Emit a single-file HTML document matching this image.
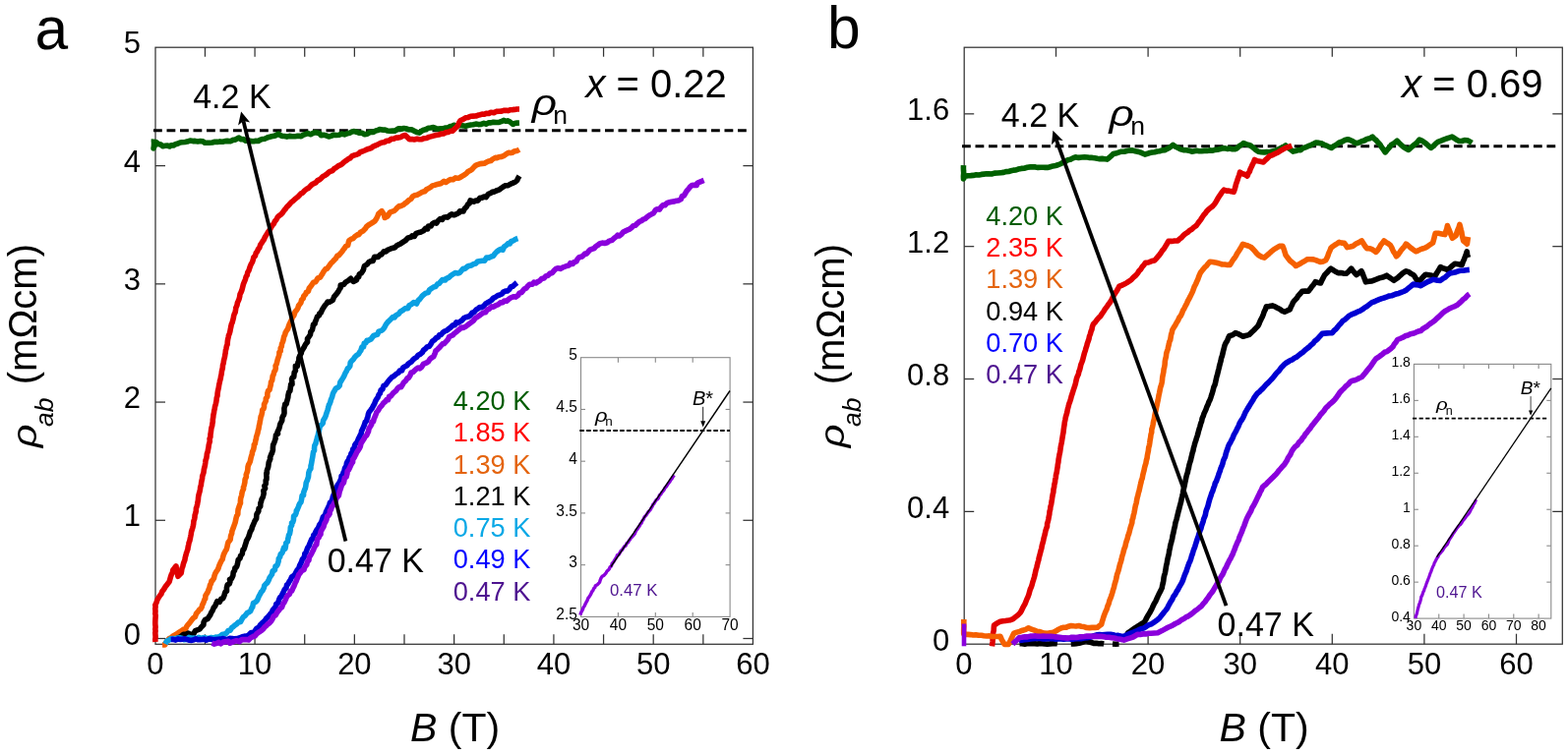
<!DOCTYPE html>
<html><head><meta charset="utf-8"><title>Figure</title>
<style>html,body{margin:0;padding:0;background:#fff;overflow:hidden}svg{display:block}</style>
</head><body>
<svg width="1594" height="768" viewBox="0 0 1594 768" font-family="'Liberation Sans', Arial, sans-serif">
<rect width="1594" height="768" fill="#fff"/>
<rect x="158.0" y="48.2" width="607.4" height="607.0999999999999" fill="none" stroke="#333" stroke-width="1.25"/>
<line x1="208.44" y1="48.20" x2="208.44" y2="57.70" stroke="#333" stroke-width="1.25" />
<line x1="208.44" y1="655.30" x2="208.44" y2="645.30" stroke="#333" stroke-width="1.25" />
<line x1="259.08" y1="48.20" x2="259.08" y2="57.70" stroke="#333" stroke-width="1.25" />
<line x1="259.08" y1="655.30" x2="259.08" y2="645.30" stroke="#333" stroke-width="1.25" />
<line x1="309.72" y1="48.20" x2="309.72" y2="57.70" stroke="#333" stroke-width="1.25" />
<line x1="309.72" y1="655.30" x2="309.72" y2="645.30" stroke="#333" stroke-width="1.25" />
<line x1="360.36" y1="48.20" x2="360.36" y2="57.70" stroke="#333" stroke-width="1.25" />
<line x1="360.36" y1="655.30" x2="360.36" y2="645.30" stroke="#333" stroke-width="1.25" />
<line x1="411.00" y1="48.20" x2="411.00" y2="57.70" stroke="#333" stroke-width="1.25" />
<line x1="411.00" y1="655.30" x2="411.00" y2="645.30" stroke="#333" stroke-width="1.25" />
<line x1="461.64" y1="48.20" x2="461.64" y2="57.70" stroke="#333" stroke-width="1.25" />
<line x1="461.64" y1="655.30" x2="461.64" y2="645.30" stroke="#333" stroke-width="1.25" />
<line x1="512.28" y1="48.20" x2="512.28" y2="57.70" stroke="#333" stroke-width="1.25" />
<line x1="512.28" y1="655.30" x2="512.28" y2="645.30" stroke="#333" stroke-width="1.25" />
<line x1="562.92" y1="48.20" x2="562.92" y2="57.70" stroke="#333" stroke-width="1.25" />
<line x1="562.92" y1="655.30" x2="562.92" y2="645.30" stroke="#333" stroke-width="1.25" />
<line x1="613.56" y1="48.20" x2="613.56" y2="57.70" stroke="#333" stroke-width="1.25" />
<line x1="613.56" y1="655.30" x2="613.56" y2="645.30" stroke="#333" stroke-width="1.25" />
<line x1="664.20" y1="48.20" x2="664.20" y2="57.70" stroke="#333" stroke-width="1.25" />
<line x1="664.20" y1="655.30" x2="664.20" y2="645.30" stroke="#333" stroke-width="1.25" />
<line x1="714.84" y1="48.20" x2="714.84" y2="57.70" stroke="#333" stroke-width="1.25" />
<line x1="714.84" y1="655.30" x2="714.84" y2="645.30" stroke="#333" stroke-width="1.25" />
<line x1="158.00" y1="649.50" x2="168.00" y2="649.50" stroke="#333" stroke-width="1.25" />
<line x1="765.40" y1="649.50" x2="755.40" y2="649.50" stroke="#333" stroke-width="1.25" />
<line x1="158.00" y1="529.28" x2="168.00" y2="529.28" stroke="#333" stroke-width="1.25" />
<line x1="765.40" y1="529.28" x2="755.40" y2="529.28" stroke="#333" stroke-width="1.25" />
<line x1="158.00" y1="409.06" x2="168.00" y2="409.06" stroke="#333" stroke-width="1.25" />
<line x1="765.40" y1="409.06" x2="755.40" y2="409.06" stroke="#333" stroke-width="1.25" />
<line x1="158.00" y1="288.84" x2="168.00" y2="288.84" stroke="#333" stroke-width="1.25" />
<line x1="765.40" y1="288.84" x2="755.40" y2="288.84" stroke="#333" stroke-width="1.25" />
<line x1="158.00" y1="168.62" x2="168.00" y2="168.62" stroke="#333" stroke-width="1.25" />
<line x1="765.40" y1="168.62" x2="755.40" y2="168.62" stroke="#333" stroke-width="1.25" />
<text transform="translate(143.00,655.70) scale(1,1.03)" font-size="31" text-anchor="end" >0</text>
<text transform="translate(143.00,535.48) scale(1,1.03)" font-size="31" text-anchor="end" >1</text>
<text transform="translate(143.00,415.26) scale(1,1.03)" font-size="31" text-anchor="end" >2</text>
<text transform="translate(143.00,295.04) scale(1,1.03)" font-size="31" text-anchor="end" >3</text>
<text transform="translate(143.00,174.82) scale(1,1.03)" font-size="31" text-anchor="end" >4</text>
<text transform="translate(143.00,54.30) scale(1,1.03)" font-size="31" text-anchor="end" >5</text>
<text transform="translate(157.80,686.30) scale(1,1.02)" font-size="31" text-anchor="middle" >0</text>
<text transform="translate(259.08,686.30) scale(1,1.02)" font-size="31" text-anchor="middle" >10</text>
<text transform="translate(360.36,686.30) scale(1,1.02)" font-size="31" text-anchor="middle" >20</text>
<text transform="translate(461.64,686.30) scale(1,1.02)" font-size="31" text-anchor="middle" >30</text>
<text transform="translate(562.92,686.30) scale(1,1.02)" font-size="31" text-anchor="middle" >40</text>
<text transform="translate(664.20,686.30) scale(1,1.02)" font-size="31" text-anchor="middle" >50</text>
<text transform="translate(765.48,686.30) scale(1,1.02)" font-size="31" text-anchor="middle" >60</text>
<rect x="980.2" y="48.2" width="608.0999999999999" height="607.0" fill="none" stroke="#333" stroke-width="1.25"/>
<line x1="1073.50" y1="48.20" x2="1073.50" y2="57.70" stroke="#333" stroke-width="1.25" />
<line x1="1073.50" y1="655.20" x2="1073.50" y2="644.70" stroke="#333" stroke-width="1.25" />
<line x1="1167.10" y1="48.20" x2="1167.10" y2="57.70" stroke="#333" stroke-width="1.25" />
<line x1="1167.10" y1="655.20" x2="1167.10" y2="644.70" stroke="#333" stroke-width="1.25" />
<line x1="1260.70" y1="48.20" x2="1260.70" y2="57.70" stroke="#333" stroke-width="1.25" />
<line x1="1260.70" y1="655.20" x2="1260.70" y2="644.70" stroke="#333" stroke-width="1.25" />
<line x1="1354.30" y1="48.20" x2="1354.30" y2="57.70" stroke="#333" stroke-width="1.25" />
<line x1="1354.30" y1="655.20" x2="1354.30" y2="644.70" stroke="#333" stroke-width="1.25" />
<line x1="1447.90" y1="48.20" x2="1447.90" y2="57.70" stroke="#333" stroke-width="1.25" />
<line x1="1447.90" y1="655.20" x2="1447.90" y2="644.70" stroke="#333" stroke-width="1.25" />
<line x1="1541.50" y1="48.20" x2="1541.50" y2="57.70" stroke="#333" stroke-width="1.25" />
<line x1="1541.50" y1="655.20" x2="1541.50" y2="644.70" stroke="#333" stroke-width="1.25" />
<line x1="980.20" y1="520.36" x2="990.20" y2="520.36" stroke="#333" stroke-width="1.25" />
<line x1="1588.30" y1="520.36" x2="1578.30" y2="520.36" stroke="#333" stroke-width="1.25" />
<line x1="980.20" y1="385.52" x2="990.20" y2="385.52" stroke="#333" stroke-width="1.25" />
<line x1="1588.30" y1="385.52" x2="1578.30" y2="385.52" stroke="#333" stroke-width="1.25" />
<line x1="980.20" y1="250.68" x2="990.20" y2="250.68" stroke="#333" stroke-width="1.25" />
<line x1="1588.30" y1="250.68" x2="1578.30" y2="250.68" stroke="#333" stroke-width="1.25" />
<line x1="980.20" y1="115.84" x2="990.20" y2="115.84" stroke="#333" stroke-width="1.25" />
<line x1="1588.30" y1="115.84" x2="1578.30" y2="115.84" stroke="#333" stroke-width="1.25" />
<text transform="translate(965.20,661.60) scale(1,1.03)" font-size="31" text-anchor="end" >0</text>
<text transform="translate(965.20,526.76) scale(1,1.03)" font-size="31" text-anchor="end" >0.4</text>
<text transform="translate(965.20,391.92) scale(1,1.03)" font-size="31" text-anchor="end" >0.8</text>
<text transform="translate(965.20,257.08) scale(1,1.03)" font-size="31" text-anchor="end" >1.2</text>
<text transform="translate(965.20,122.24) scale(1,1.03)" font-size="31" text-anchor="end" >1.6</text>
<text transform="translate(979.90,686.30) scale(1,1.02)" font-size="31" text-anchor="middle" >0</text>
<text transform="translate(1073.50,686.30) scale(1,1.02)" font-size="31" text-anchor="middle" >10</text>
<text transform="translate(1167.10,686.30) scale(1,1.02)" font-size="31" text-anchor="middle" >20</text>
<text transform="translate(1260.70,686.30) scale(1,1.02)" font-size="31" text-anchor="middle" >30</text>
<text transform="translate(1354.30,686.30) scale(1,1.02)" font-size="31" text-anchor="middle" >40</text>
<text transform="translate(1447.90,686.30) scale(1,1.02)" font-size="31" text-anchor="middle" >50</text>
<text transform="translate(1541.50,686.30) scale(1,1.02)" font-size="31" text-anchor="middle" >60</text>
<text x="35.60" y="50.20" font-size="60.5" >a</text>
<text x="840.90" y="49.40" font-size="60.5" >b</text>
<text x="417.1" y="753.8" font-size="41"><tspan font-style="italic">B</tspan> (T)</text>
<text x="1239.6" y="753.8" font-size="41"><tspan font-style="italic">B</tspan> (T)</text>
<text transform="translate(37.0,455.2) rotate(-90) scale(1.15,1)" font-size="36" font-style="italic">ρ</text>
<text transform="translate(53.6,434.1) rotate(-90)" font-size="26.5" font-style="italic">ab</text>
<text transform="translate(36.8,391.2) rotate(-90)" font-size="40">(mΩcm)</text>
<text transform="translate(858.2,455.2) rotate(-90) scale(1.15,1)" font-size="36" font-style="italic">ρ</text>
<text transform="translate(874.8,434.1) rotate(-90)" font-size="26.5" font-style="italic">ab</text>
<text transform="translate(858.0,391.2) rotate(-90)" font-size="40">(mΩcm)</text>
<text transform="translate(595.4,98.7) scale(1,1.035)" font-size="40"><tspan font-style="italic">x</tspan> = 0.22</text>
<text transform="translate(1425.1,98.9) scale(1,1.035)" font-size="40"><tspan font-style="italic">x</tspan> = 0.69</text>
<line x1="156.00" y1="132.65" x2="759.00" y2="132.65" stroke="#000" stroke-width="3.0" stroke-dasharray="8.8 4.7"/>
<line x1="978.00" y1="148.70" x2="1582.00" y2="148.70" stroke="#000" stroke-width="3.0" stroke-dasharray="8.8 4.71"/>
<text transform="translate(540.70,117.10) scale(1.18,1)" font-size="37.4" font-style="italic">ρ</text>
<text x="562.30" y="125.70" font-size="26.5" >n</text>
<text transform="translate(1127.40,128.30) scale(1.18,1)" font-size="37.4" font-style="italic">ρ</text>
<text x="1149.20" y="136.90" font-size="26.5" >n</text>
<polyline points="156.5,141.5 156.4,143.3 156.6,145.6 156.5,148.4 156.1,151.0 157.4,148.0 158.7,144.6 161.1,146.7 163.0,146.7 165.6,148.7 167.8,148.3 170.3,148.1 172.4,149.0 174.0,147.8 176.3,148.0 178.4,146.7 181.0,146.0 183.1,145.0 184.9,144.8 188.1,144.5 190.4,144.1 193.2,143.0 196.1,143.6 198.3,143.4 201.1,143.9 203.6,143.5 206.1,143.7 207.9,145.2 210.0,145.3 212.6,145.3 215.8,145.0 218.5,144.3 221.0,144.4 223.6,143.9 226.4,144.3 228.8,143.6 231.1,143.4 234.2,143.7 237.0,142.4 238.8,142.3 240.7,141.3 243.0,140.1 245.1,141.8 247.4,141.6 249.8,143.3 252.2,142.8 255.2,143.6 258.0,143.7 260.2,143.2 262.5,143.5 265.2,141.9 266.7,141.6 269.1,141.2 271.7,140.0 273.5,139.4 276.1,138.8 278.8,138.3 280.6,137.6 282.9,136.0 285.3,137.8 287.5,138.5 289.3,138.5 291.7,139.1 294.3,138.4 297.0,138.7 299.8,138.7 301.7,138.4 304.0,138.3 306.1,138.7 308.8,136.9 310.7,136.5 313.0,135.5 315.7,136.7 317.7,135.7 319.7,134.9 322.2,135.0 324.9,135.7 326.5,137.8 329.2,137.3 331.5,137.9 334.2,139.0 337.1,138.1 339.3,137.2 341.9,137.5 344.8,137.2 347.2,136.0 350.2,136.9 352.9,135.9 355.5,135.2 357.7,134.1 360.2,133.6 362.3,134.2 364.8,135.1 368.0,135.3 370.7,136.7 373.4,136.3 374.9,135.2 377.1,134.3 379.6,134.5 381.9,133.0 384.0,132.6 385.7,131.5 388.9,132.1 391.4,132.0 393.5,132.9 396.3,133.3 399.4,133.0 401.3,133.3 403.9,131.4 405.8,130.7 408.8,131.1 410.5,130.5 413.8,131.1 415.9,131.8 418.3,131.8 421.6,133.5 423.8,134.6 426.3,135.1 429.0,133.0 430.9,132.1 433.2,131.5 435.6,130.2 437.8,130.0 440.6,129.6 443.4,130.7 445.8,131.1 448.5,130.9 451.1,130.5 453.2,130.0 454.9,130.1 457.1,128.8 459.7,128.2 461.5,127.3 464.0,127.9 466.0,127.7 468.4,127.4 471.2,127.9 473.3,128.4 476.2,127.4 478.6,127.0 481.1,126.8 483.7,126.1 486.3,126.6 489.1,126.4 491.9,125.3 494.1,126.2 497.0,124.8 499.0,124.9 501.6,124.2 504.2,124.5 507.3,124.4 509.4,123.7 512.0,122.4 514.4,123.3 516.0,122.8 518.5,124.0 521.4,126.5 523.1,125.6 525.7,125.1 528.0,125.0" fill="none" stroke="#006000" stroke-width="5.6" stroke-linejoin="round" stroke-linecap="butt" />
<polyline points="158.0,653.0 157.8,650.6 158.1,648.0 158.0,646.2 157.8,643.9 158.1,641.8 157.8,640.1 158.1,637.8 157.8,634.9 157.8,633.2 157.9,630.3 158.0,628.8 158.2,625.9 157.8,624.4 158.0,621.9 157.8,619.0 158.1,617.2 157.8,615.4 159.1,612.8 159.8,610.4 161.0,608.4 162.5,605.8 163.8,604.4 164.9,601.6 166.4,599.7 167.6,597.7 169.0,595.7 170.5,593.8 172.1,591.8 172.8,589.3 173.5,586.7 174.3,584.3 175.3,582.5 175.8,580.0 177.6,577.6 179.0,575.9 179.3,578.8 179.8,581.0 180.5,584.0 180.9,586.3 184.1,583.1 184.6,580.6 185.0,578.1 185.7,576.5 186.4,573.7 186.9,572.1 187.9,569.7 188.3,567.0 188.9,565.0 189.4,562.8 190.0,561.2 190.9,558.6 191.1,556.9 191.7,554.1 192.1,552.0 192.9,550.0 193.3,547.8 193.8,545.5 194.2,543.4 194.6,540.8 195.2,538.9 195.8,537.0 196.3,534.9 196.7,532.9 196.9,530.2 197.7,527.8 198.0,526.1 198.1,524.1 198.9,521.7 199.3,519.7 199.4,517.2 200.0,515.3 200.6,513.2 200.9,511.1 201.4,508.7 201.6,505.9 201.9,504.0 202.3,502.4 203.0,500.0 203.4,497.9 203.8,495.0 204.4,493.6 204.6,491.2 205.1,488.6 205.6,486.6 205.7,484.5 206.5,482.1 207.0,480.6 207.3,477.7 207.8,475.7 208.4,473.4 208.8,470.6 209.0,468.5 209.8,466.2 210.2,463.7 210.4,461.6 211.1,459.8 211.6,457.1 212.0,455.0 212.3,452.4 212.9,450.3 213.3,448.9 213.1,446.2 213.9,444.5 214.0,441.6 214.3,440.1 214.6,437.6 214.9,435.3 215.7,432.8 215.9,430.9 216.3,429.0 216.3,427.0 216.8,423.9 216.9,422.2 217.5,419.8 217.7,417.7 218.2,416.0 218.5,413.7 219.3,410.9 219.7,409.3 220.1,406.7 220.3,404.6 221.0,402.6 221.1,400.2 221.5,397.7 221.8,396.3 222.3,394.2 222.7,391.3 223.2,389.1 223.5,387.6 224.2,385.3 224.5,383.2 225.1,380.7 225.4,378.0 225.8,376.2 226.3,374.2 226.5,371.4 227.2,369.3 227.4,367.4 227.8,365.6 228.5,362.9 228.8,360.8 229.2,358.7 229.4,356.3 229.9,354.8 230.4,351.9 231.1,350.5 231.3,347.5 231.6,345.3 232.1,343.1 232.5,341.1 233.2,339.5 233.9,336.9 234.3,334.8 234.8,332.4 235.2,330.2 236.2,327.9 236.6,326.2 237.3,323.6 237.6,321.5 238.2,319.5 239.1,317.7 239.6,314.7 239.8,313.2 240.9,310.7 241.4,308.0 242.0,306.7 243.0,304.4 243.7,301.6 244.0,299.3 244.9,297.6 245.8,295.4 246.4,293.2 247.0,290.8 247.5,288.8 248.4,286.7 249.5,283.9 250.1,281.6 251.2,279.9 251.8,277.0 252.9,275.3 253.7,272.8 254.6,270.3 255.3,268.6 256.5,266.6 257.3,264.2 257.9,261.7 259.4,260.2 260.2,257.4 261.4,256.0 262.5,253.5 263.7,252.2 264.6,249.2 265.8,247.5 267.1,245.3 268.3,243.7 269.3,241.2 270.6,239.2 271.9,237.1 272.9,235.6 274.3,233.7 275.7,230.9 276.9,229.1 278.4,227.5 279.5,224.9 280.9,223.5 282.3,220.8 283.8,219.4 285.7,218.2 287.1,216.6 288.7,214.2 289.8,213.1 291.6,210.5 293.1,209.1 294.6,207.5 296.1,205.7 297.8,204.5 299.7,202.7 301.4,201.3 302.7,200.4 304.5,198.5 305.8,197.0 307.9,195.9 309.7,193.9 311.9,192.1 313.6,191.4 315.7,189.1 317.3,187.6 319.6,186.4 321.3,185.6 322.9,183.6 325.0,182.6 326.5,181.3 328.3,179.5 330.0,178.6 332.2,177.1 334.2,175.2 335.8,174.3 338.1,173.5 339.8,171.4 341.8,170.4 344.0,168.7 346.0,167.9 348.0,166.6 349.9,164.7 351.8,163.4 354.1,161.7 355.8,161.0 357.8,158.9 359.8,158.0 362.1,157.4 364.5,156.5 366.4,154.6 368.5,154.0 370.9,153.0 372.9,152.0 375.2,151.3 377.5,150.5 379.6,148.8 381.8,148.0 383.9,147.1 386.1,145.9 388.2,145.0 390.5,144.8 393.1,143.3 395.4,143.1 397.8,141.4 400.3,141.2 402.8,140.0 404.9,140.1 407.5,139.5 409.5,138.2 411.9,137.5 414.3,139.8 416.2,141.6 418.8,141.6 421.1,142.0 424.0,141.3 426.4,141.8 428.9,141.6 431.2,140.7 433.6,140.5 436.1,139.4 438.1,138.9 440.8,138.1 443.2,137.5 446.0,137.1 448.3,136.1 451.0,135.9 453.5,134.6 455.5,134.4 458.0,133.2 460.2,133.1 462.2,131.0 464.1,129.2 465.6,127.6 466.7,124.7 468.1,122.5 470.4,121.6 473.3,119.8 475.9,119.4 478.5,118.2 480.9,118.1 483.8,118.0 485.7,117.3 488.0,116.7 490.0,116.1 492.4,116.3 494.3,115.4 496.9,115.5 499.1,114.2 502.1,114.7 504.5,113.4 507.3,113.3 509.9,113.1 512.1,112.4 514.4,112.2 516.5,112.6 519.0,111.7 521.0,111.6 523.4,111.4 525.5,111.0 528.0,111.0" fill="none" stroke="#e00000" stroke-width="5.6" stroke-linejoin="round" stroke-linecap="butt" />
<polyline points="165.0,656.0 167.7,655.9 168.6,653.6 170.7,650.9 172.3,649.3 174.1,648.7 176.0,646.9 177.8,645.9 179.9,644.8 182.0,643.2 183.7,642.3 186.2,640.4 188.5,640.1 189.7,637.3 191.1,635.4 192.2,634.3 193.5,632.6 195.3,630.1 196.8,628.4 198.3,627.6 199.5,624.2 200.9,622.7 202.6,620.2 203.9,619.7 205.2,617.3 205.6,615.5 206.7,613.4 208.0,609.8 208.7,609.1 208.9,606.0 210.4,603.6 211.4,601.7 212.2,599.4 212.8,598.7 213.4,595.4 214.5,593.5 215.0,591.1 216.0,590.4 217.5,588.2 217.9,586.0 218.8,583.4 220.2,581.0 221.4,579.3 222.1,577.8 222.6,575.9 224.0,572.7 225.1,570.4 226.2,568.9 226.5,567.1 227.4,564.0 228.5,561.7 229.4,560.0 230.1,559.2 230.9,556.5 231.5,553.3 232.1,551.4 233.5,549.9 234.2,548.6 234.6,545.1 235.7,542.4 235.8,540.7 236.6,538.4 237.4,536.4 238.4,533.4 239.1,531.6 239.4,530.1 240.2,526.4 240.6,525.0 241.8,523.0 241.9,519.8 242.1,518.3 243.1,515.5 243.7,513.4 244.5,511.7 244.4,509.7 244.7,506.8 245.6,504.0 245.8,502.8 246.3,500.1 247.6,497.2 247.4,495.8 248.2,493.7 248.9,490.6 249.0,488.6 249.2,487.5 250.4,485.0 250.2,483.0 251.3,480.1 251.8,477.9 252.0,475.0 252.6,472.6 253.4,471.5 254.3,469.4 255.0,466.1 255.5,464.1 256.3,461.9 256.5,459.9 257.8,456.8 258.3,454.1 258.3,452.3 259.3,451.4 259.8,448.1 260.5,445.9 260.5,444.8 261.3,442.2 261.9,440.5 262.3,438.1 263.0,436.0 263.3,433.5 264.0,430.6 264.2,429.0 264.6,427.3 265.2,423.5 265.7,423.0 266.5,419.4 266.7,417.0 267.9,415.9 268.5,413.9 268.5,411.5 269.3,409.7 270.3,407.7 270.3,405.5 271.8,403.4 271.9,399.9 272.6,397.4 274.0,396.6 274.5,394.4 275.3,391.2 275.5,388.7 276.7,386.7 276.9,385.0 277.2,382.5 278.0,381.2 278.7,378.3 279.8,376.5 280.3,374.6 280.1,372.0 281.1,370.5 281.6,368.3 282.4,365.1 283.3,362.6 283.9,360.5 283.9,358.2 285.2,357.3 285.2,354.2 286.2,352.5 286.6,349.6 287.4,347.9 288.0,345.9 288.7,342.3 289.7,340.5 290.1,338.6 291.1,336.7 292.6,334.6 293.5,331.6 294.3,329.6 295.7,326.9 296.7,324.6 297.1,322.9 298.7,321.2 299.2,319.7 300.1,317.0 301.5,315.6 302.8,313.4 303.5,310.9 304.4,309.9 305.9,307.8 306.5,305.3 308.2,303.6 308.7,301.4 310.7,299.1 311.5,297.2 313.4,296.2 314.3,293.1 315.8,291.4 317.4,289.1 318.6,287.2 320.8,286.7 321.6,285.5 323.1,282.9 325.5,282.1 326.8,279.9 327.8,278.5 329.2,275.9 330.9,273.8 332.4,273.4 334.1,271.1 335.5,269.3 336.5,267.8 338.2,266.2 340.2,264.0 341.4,262.9 342.8,260.3 344.5,259.8 346.1,257.8 347.7,256.0 349.0,254.0 350.2,252.6 351.5,250.5 353.7,249.4 354.3,246.5 354.9,244.8 357.1,243.1 359.1,242.5 360.6,240.7 363.1,238.9 364.8,238.7 366.6,236.2 369.0,235.0 371.4,232.6 372.4,230.7 374.5,229.0 376.8,227.6 379.4,226.0 381.0,224.9 382.7,222.4 383.9,219.9 384.7,217.7 388.1,214.7 390.3,218.0 391.1,221.4 394.0,219.9 396.6,215.9 400.4,214.7 402.6,212.7 403.5,211.6 405.8,209.6 407.6,209.6 410.3,208.3 411.9,206.7 413.5,205.8 415.5,203.7 417.8,202.4 419.4,199.9 421.6,198.7 424.1,198.2 426.3,197.1 428.0,196.1 430.2,195.0 431.7,194.7 433.8,192.5 435.6,191.7 437.5,190.6 439.6,188.9 441.6,188.4 443.4,187.8 446.6,187.1 448.4,186.5 451.4,184.4 453.3,185.5 456.2,183.5 458.1,182.5 460.5,182.8 463.0,180.9 465.8,181.3 467.5,180.7 469.9,179.1 471.9,178.0 474.0,176.5 475.5,174.8 477.8,173.6 479.7,172.4 481.8,170.0 483.5,168.4 485.9,167.3 488.0,166.6 490.2,166.4 492.4,166.2 494.1,165.3 496.7,163.9 499.0,163.5 500.9,161.9 503.6,160.4 505.5,160.6 507.1,159.7 509.9,159.4 511.8,158.7 514.3,156.9 516.9,155.3 519.0,155.6 521.0,155.2 523.3,153.7 525.7,153.4 528.0,152.1" fill="none" stroke="#f56000" stroke-width="5.6" stroke-linejoin="round" stroke-linecap="butt" />
<polyline points="180.0,650.0 181.5,648.5 183.8,647.5 186.7,645.2 189.3,645.0 191.5,644.1 194.1,645.6 196.9,644.6 198.5,641.7 200.6,640.9 203.1,639.9 204.4,638.1 206.9,635.5 207.1,632.8 208.5,630.4 211.1,629.5 212.1,627.9 213.9,625.3 214.7,623.3 216.1,621.1 217.3,618.0 218.6,616.6 220.0,613.5 220.8,611.6 223.3,612.4 224.8,609.2 226.7,608.7 228.0,605.6 228.4,603.9 229.2,601.9 230.5,601.2 230.4,598.1 231.2,594.8 233.1,594.0 234.0,591.5 233.5,589.3 235.4,588.7 236.9,585.3 237.2,582.2 238.5,580.4 238.9,577.7 239.7,577.5 240.7,576.2 241.4,573.9 242.2,569.4 243.9,568.0 244.7,565.7 244.5,565.3 246.2,563.5 247.0,559.2 247.8,558.9 248.4,557.4 249.0,555.4 250.5,550.7 250.4,550.4 252.5,546.7 252.6,546.4 253.2,544.7 254.5,540.4 255.1,539.8 256.0,538.0 256.3,536.3 257.4,533.8 258.6,531.0 259.0,530.0 260.6,527.5 260.9,523.6 261.0,523.0 262.8,520.1 263.1,517.0 264.7,515.2 264.9,511.4 265.4,510.6 266.1,507.7 267.2,505.9 268.2,501.8 267.8,499.3 268.7,498.1 269.6,496.7 268.8,494.4 270.2,492.3 270.2,488.5 270.9,487.8 271.0,485.9 270.8,481.4 271.4,481.2 271.3,478.9 272.6,475.3 272.8,474.2 273.2,470.6 273.5,469.8 274.8,466.7 274.5,465.4 276.0,461.5 276.4,461.1 277.4,457.7 277.4,455.6 277.7,452.2 278.3,451.4 279.3,448.7 280.1,446.2 280.5,442.6 282.5,441.2 282.0,439.6 283.7,436.0 284.2,434.2 284.9,431.0 284.9,431.4 286.7,427.7 286.9,424.9 287.8,423.1 288.6,421.9 289.0,420.2 288.9,415.4 289.4,413.5 289.8,411.0 291.1,411.0 291.5,409.0 292.8,404.3 292.9,403.0 292.9,402.4 293.7,398.9 294.8,397.7 295.4,393.8 295.7,390.8 297.0,390.8 296.6,385.8 297.2,384.3 298.7,383.5 299.2,378.8 299.7,378.3 300.4,376.9 300.4,372.3 302.3,372.4 303.0,368.4 303.8,367.5 303.9,364.1 305.0,361.4 306.2,359.3 306.7,357.1 308.3,354.5 309.4,352.7 309.4,352.5 310.6,350.2 312.5,347.9 312.5,344.4 313.4,343.5 315.4,340.5 315.9,337.5 317.4,335.6 318.1,332.5 318.5,330.1 320.1,329.2 320.3,327.9 321.6,324.7 322.5,322.3 324.6,320.6 324.8,319.0 326.1,318.2 326.9,316.5 328.0,314.3 330.4,310.6 331.8,309.0 333.1,307.0 334.8,307.4 338.3,305.4 339.6,301.9 342.4,298.7 343.8,296.7 345.2,294.0 346.1,293.0 346.2,290.1 349.5,289.6 350.9,287.4 354.5,285.2 356.6,283.3 359.3,286.4 362.6,284.8 362.8,282.5 364.7,281.7 365.3,278.9 367.4,277.7 369.3,274.7 370.4,270.7 373.1,269.0 375.1,266.5 377.1,265.6 379.1,265.5 380.6,261.4 384.4,261.4 386.5,259.1 387.7,259.0 390.1,255.9 392.3,255.9 393.9,254.4 396.7,253.2 398.5,252.5 401.6,251.7 403.1,250.0 405.4,248.8 407.2,247.9 410.6,245.6 412.4,244.5 414.8,241.9 417.7,241.3 419.0,239.8 421.2,240.5 423.1,237.3 426.2,236.3 427.4,236.2 430.4,234.8 432.5,232.4 434.7,233.0 435.5,230.1 438.1,230.0 439.6,227.6 441.6,226.4 443.7,227.1 444.9,225.0 447.5,222.6 449.5,223.4 450.9,221.2 453.7,220.7 455.2,221.1 457.8,218.6 459.1,217.8 461.5,218.8 464.2,217.7 466.4,216.6 467.5,214.7 471.0,215.0 472.1,212.6 474.2,210.5 475.7,207.7 477.1,207.0 478.1,204.0 481.6,205.2 483.7,204.1 485.8,204.2 488.0,201.2 489.9,201.2 492.1,200.0 494.1,200.6 496.4,197.4 498.4,196.7 501.2,195.0 502.5,195.1 504.5,194.0 507.8,192.8 509.1,191.7 511.6,189.9 513.7,188.8 516.5,188.6 519.1,187.1 520.9,186.4 524.0,185.0 525.7,183.5 526.4,181.6 528.0,179.0" fill="none" stroke="#000000" stroke-width="5.6" stroke-linejoin="round" stroke-linecap="butt" />
<polyline points="168.0,655.0 169.6,652.1 171.8,651.1 173.5,649.7 175.5,649.5 178.0,649.7 179.9,649.1 183.3,648.9 185.3,649.5 187.4,650.7 189.8,650.2 192.1,648.4 195.4,649.2 197.0,649.0 199.9,649.7 202.0,648.4 205.6,649.6 206.9,648.5 209.5,649.1 212.2,649.4 214.8,648.5 217.0,648.9 219.4,648.1 221.7,648.5 224.2,647.0 226.3,645.2 228.2,645.0 229.9,644.4 232.1,641.5 234.1,641.2 235.6,638.6 237.2,637.4 239.3,635.6 240.6,634.8 242.4,632.9 244.6,632.4 246.0,629.7 247.3,627.6 249.0,626.5 251.3,623.6 253.4,622.5 254.6,621.6 256.1,618.0 256.7,617.6 257.5,613.5 259.5,612.5 261.2,611.1 262.0,609.5 263.3,606.3 264.7,603.9 265.5,602.3 266.7,601.1 268.3,598.0 268.8,595.6 270.4,593.9 271.8,592.6 273.4,589.6 274.0,587.8 275.9,585.0 276.5,584.1 277.2,580.8 279.4,579.9 280.0,576.1 281.4,575.4 282.2,574.0 283.2,570.6 283.3,568.2 284.6,566.6 285.2,563.8 286.6,562.7 287.2,561.6 288.5,557.2 289.9,558.2 290.4,555.7 290.7,552.5 292.3,551.0 292.8,547.8 293.2,546.4 293.5,544.4 294.5,543.0 295.2,539.3 295.3,536.5 296.7,534.1 296.5,532.0 297.7,531.3 298.4,529.0 298.6,525.0 300.3,523.7 301.1,521.7 301.3,519.4 302.0,518.9 303.4,515.5 304.1,513.5 304.5,512.6 306.0,510.7 306.6,507.8 307.1,504.1 308.6,503.7 308.5,501.5 309.8,497.8 310.3,497.0 310.8,494.7 311.2,491.1 312.5,488.3 312.7,487.6 313.5,485.0 313.8,481.1 314.5,478.8 315.9,476.7 316.0,473.8 316.5,472.1 317.0,469.0 317.1,468.5 317.8,464.8 318.1,462.5 318.6,459.6 319.6,458.1 319.5,456.6 319.8,453.3 321.2,450.6 321.2,450.0 322.3,445.9 322.5,444.9 323.2,443.0 323.7,440.5 324.7,436.4 325.3,433.7 326.8,431.9 328.2,430.5 328.7,427.5 330.1,425.3 331.2,422.9 331.5,421.7 332.0,420.1 332.9,417.6 333.8,414.5 334.4,411.8 334.9,411.4 335.9,408.7 336.5,406.3 337.6,403.9 338.4,400.6 339.2,398.8 339.9,397.7 341.5,395.0 343.7,394.0 345.2,392.2 345.8,388.9 346.8,387.5 348.7,384.4 349.6,382.8 351.1,379.4 352.4,377.3 353.3,375.0 353.9,374.8 355.8,372.3 356.2,368.8 357.5,367.2 359.2,365.7 360.5,363.5 362.7,361.3 364.5,360.2 366.0,357.5 366.8,356.6 367.9,353.0 369.6,352.9 370.2,349.2 372.0,348.7 373.0,346.3 375.0,346.1 377.1,345.0 379.7,341.5 381.6,340.8 383.6,340.3 385.0,337.1 387.7,336.4 389.3,335.1 390.6,333.5 392.0,330.7 392.9,329.3 394.9,326.9 397.5,324.4 399.2,322.6 401.1,322.9 402.6,320.7 405.4,319.3 406.8,317.2 408.2,316.3 410.5,314.8 412.3,313.5 414.7,313.6 416.0,310.8 418.2,309.6 420.5,307.6 423.5,309.0 425.0,305.9 426.9,304.1 428.8,301.6 430.4,300.0 433.0,298.1 435.3,297.5 436.6,294.8 439.0,293.2 440.7,292.0 442.7,291.6 444.8,288.9 446.4,288.4 448.2,286.3 449.7,284.6 452.6,285.0 453.3,283.6 456.6,282.1 457.8,280.8 460.4,279.0 462.7,277.5 465.4,277.9 467.3,277.5 469.6,274.7 471.0,273.2 472.6,273.4 475.4,271.0 476.5,270.6 479.2,270.0 480.7,268.9 483.8,268.0 485.6,265.9 488.5,265.5 490.3,265.3 492.6,265.2 494.6,262.0 497.0,262.1 499.4,261.0 501.6,260.3 503.2,257.9 504.9,256.1 507.3,254.4 509.4,253.4 511.1,254.2 512.6,250.8 514.6,249.6 516.5,247.6 518.2,248.0 519.7,245.4 521.5,245.0 524.1,243.3 526.4,242.5" fill="none" stroke="#0aa0e2" stroke-width="5.6" stroke-linejoin="round" stroke-linecap="butt" />
<polyline points="173.7,650.5 175.9,650.4 178.5,651.1 181.0,649.9 182.8,650.4 185.4,650.2 187.4,649.8 189.8,650.4 192.6,651.2 194.8,651.4 197.1,650.7 199.2,649.7 201.3,650.7 203.2,650.6 206.0,650.5 207.9,650.1 209.9,651.2 211.9,649.9 214.9,650.3 216.7,650.7 219.3,650.5 221.7,650.3 224.2,650.1 226.2,649.6 229.2,650.3 230.9,650.8 233.4,649.4 236.0,649.6 238.3,650.1 240.7,649.6 243.2,649.0 246.2,647.7 248.7,647.1 250.8,647.3 253.0,645.8 255.3,643.5 257.6,643.3 258.8,642.3 260.8,639.4 263.1,638.3 264.6,635.8 266.4,633.9 267.6,632.8 269.2,631.4 270.6,629.1 272.4,627.5 273.8,626.0 275.1,624.1 276.5,622.8 277.1,620.8 278.6,619.0 280.2,617.3 280.8,614.4 282.6,613.3 283.8,609.6 284.8,607.6 286.0,606.7 286.8,604.9 288.5,601.6 289.2,599.8 291.0,598.0 291.6,594.9 292.7,594.3 294.0,591.7 295.3,589.9 296.6,586.9 298.5,585.7 299.8,584.3 301.5,581.0 302.4,579.4 303.5,578.6 304.7,575.1 305.1,574.4 306.5,571.6 307.3,569.1 308.6,567.5 309.6,565.8 309.8,563.3 310.9,562.2 312.2,558.6 312.8,557.2 314.0,555.5 314.9,553.0 315.6,551.4 316.9,548.3 318.1,547.9 318.8,544.3 320.4,542.5 321.0,540.8 322.1,538.8 323.4,537.5 324.8,533.7 325.5,533.0 326.8,530.9 327.6,528.5 328.4,525.8 329.8,524.8 331.0,522.4 331.5,520.5 332.9,517.9 333.9,515.6 334.8,513.6 335.4,511.4 336.7,510.5 337.9,507.3 338.5,504.9 339.5,502.7 340.1,501.9 341.3,499.1 342.3,496.7 342.8,494.2 343.8,492.6 345.0,490.9 346.1,488.5 346.9,486.8 347.1,484.0 348.4,483.4 349.0,480.9 350.0,479.0 350.5,476.2 352.1,473.8 352.4,471.2 353.2,469.6 354.6,467.4 355.2,465.3 356.2,464.4 357.1,461.1 358.1,460.4 358.8,456.7 360.1,456.1 360.7,452.7 361.6,451.3 363.3,449.4 364.3,446.5 364.9,445.4 366.2,442.7 367.3,440.5 367.5,438.6 368.4,436.9 369.4,434.5 370.5,432.0 371.2,429.5 372.5,428.4 373.3,425.4 373.8,424.6 374.4,421.3 375.1,419.4 377.0,416.9 378.3,415.1 379.4,413.0 380.6,410.9 381.7,408.0 383.0,405.7 384.0,404.4 385.2,401.3 386.3,400.3 387.2,396.8 388.8,396.0 390.0,392.4 391.9,391.6 393.7,389.1 395.4,386.9 397.2,385.0 398.5,383.5 400.5,382.6 402.8,380.4 405.1,379.1 406.4,377.1 408.6,377.0 409.7,373.9 411.9,372.8 413.8,371.8 415.1,370.0 416.9,368.8 418.2,368.1 419.6,366.3 421.4,364.6 423.5,363.4 425.0,361.3 427.1,360.4 429.4,358.4 430.6,356.1 432.4,354.9 434.2,352.9 436.5,352.2 437.9,350.2 439.7,346.9 441.4,346.0 443.7,343.5 445.3,343.1 446.6,340.8 448.5,340.4 449.9,338.6 452.3,336.8 454.2,336.2 455.8,334.8 457.9,333.2 460.4,330.7 462.3,330.8 463.8,327.9 465.6,328.5 467.5,327.2 469.6,325.8 471.6,323.6 474.1,322.4 475.7,322.4 478.0,321.0 480.2,318.0 481.5,318.0 483.9,315.2 485.7,314.1 487.7,312.5 489.3,312.8 491.7,311.3 493.5,309.2 495.6,307.8 497.6,306.8 499.5,305.5 501.8,303.0 503.6,302.2 506.1,300.5 507.4,300.2 510.2,299.0 511.7,297.1 513.9,296.1 515.8,296.0 517.8,294.4 519.4,291.7 521.4,291.2 523.4,289.3 525.5,287.5" fill="none" stroke="#0000d2" stroke-width="5.6" stroke-linejoin="round" stroke-linecap="butt" />
<polyline points="215.4,654.2 217.9,655.1 220.4,654.4 222.2,653.4 224.5,654.8 226.7,653.3 229.0,652.7 232.0,652.3 233.8,654.2 235.7,653.4 238.2,652.4 240.4,651.7 243.5,652.6 246.0,650.5 248.2,650.6 250.6,650.6 252.7,651.0 254.4,649.2 257.5,647.3 259.3,646.9 260.9,644.8 263.6,642.8 265.6,641.5 267.2,640.2 269.1,637.8 270.7,636.6 272.0,635.0 273.8,633.9 275.8,631.7 277.1,629.4 278.1,626.8 280.2,625.9 281.1,624.0 282.7,621.6 283.3,621.0 284.9,618.8 286.6,617.6 288.0,613.6 288.7,613.3 290.5,609.6 291.1,607.8 292.3,605.9 294.4,604.2 295.3,601.2 296.6,601.1 298.0,597.8 298.8,596.5 300.1,593.0 301.0,591.4 301.9,589.0 302.8,587.1 303.8,584.3 304.7,583.5 306.4,580.9 309.0,579.5 309.5,577.4 311.0,575.0 311.8,574.6 312.3,571.6 313.9,570.0 314.4,566.7 315.4,565.3 316.7,563.1 317.3,561.8 318.7,559.1 319.2,557.6 320.8,554.7 321.8,553.8 322.0,551.6 322.8,548.2 324.1,546.8 324.8,545.0 326.0,543.4 326.0,541.0 327.3,538.6 328.6,536.4 329.1,535.4 329.9,532.4 330.8,531.1 331.9,528.8 332.6,525.2 334.0,524.3 335.1,522.7 335.4,519.4 336.4,518.6 337.5,514.9 339.3,513.9 339.5,512.1 341.3,509.5 341.6,507.9 342.9,505.6 344.4,504.0 345.1,500.5 345.4,499.2 345.9,498.2 347.1,494.5 348.0,492.4 349.4,491.0 349.9,488.6 350.3,486.2 352.0,485.2 352.9,482.0 353.1,479.4 354.4,478.1 355.3,476.2 356.4,473.9 357.6,471.4 358.6,470.1 358.6,467.5 360.1,465.6 361.1,463.4 361.7,462.3 362.7,460.1 364.4,457.7 365.2,456.4 366.3,454.2 367.0,451.1 368.8,448.2 370.2,446.1 371.1,444.3 372.6,443.0 373.6,440.8 374.5,439.0 375.1,435.8 376.7,433.5 377.8,431.4 377.9,429.0 379.6,428.7 380.2,425.9 381.0,424.3 382.5,420.4 382.8,419.4 384.4,417.7 386.2,414.4 388.1,412.5 389.6,410.2 391.6,408.5 393.0,406.6 394.5,406.8 395.7,403.2 397.2,403.0 398.6,401.2 400.1,399.4 402.5,397.6 404.1,395.2 405.9,393.6 407.7,393.8 409.4,391.1 410.4,389.1 412.4,387.4 414.2,384.6 415.3,384.4 417.0,381.7 418.0,378.9 419.7,378.6 422.7,375.8 425.1,374.0 427.0,374.8 428.5,373.4 430.6,370.1 432.1,369.6 433.8,368.9 435.5,367.7 437.4,364.8 439.5,363.5 440.8,362.6 442.2,359.4 442.9,357.0 444.6,355.6 446.4,353.8 448.3,351.6 450.3,349.5 451.5,349.5 453.3,347.6 455.6,345.1 456.5,342.8 459.0,341.4 460.3,340.9 461.6,339.4 463.3,338.1 465.4,336.3 467.1,335.0 469.1,333.1 471.2,333.4 473.5,332.1 475.0,330.9 477.5,329.1 479.5,327.5 481.2,326.2 483.1,323.7 484.9,322.6 487.4,320.9 489.8,319.1 491.4,318.0 493.4,317.8 495.5,314.8 497.0,314.5 499.7,311.9 501.6,312.3 504.1,310.6 506.3,309.9 508.7,307.9 511.0,307.8 512.7,306.1 514.9,306.3 517.7,303.9 519.7,302.7 521.9,301.7 524.4,302.1 526.8,300.3 528.0,298.2 530.0,297.6 531.7,295.6 532.8,294.1 535.2,293.0 536.1,291.4 538.4,289.2 541.1,289.3 542.8,287.1 544.9,287.9 547.0,286.4 548.9,285.4 550.7,283.5 552.9,283.1 554.9,280.9 557.0,280.3 559.0,278.3 561.4,277.6 563.0,275.5 565.1,273.4 567.4,272.7 569.5,273.4 571.8,272.2 573.6,271.5 576.1,270.5 578.3,270.1 579.8,267.7 582.2,268.5 583.6,266.7 586.0,265.8 586.9,263.8 588.8,261.7 591.5,261.1 593.0,259.8 594.6,258.0 596.4,258.1 598.5,255.5 599.8,254.1 602.4,253.1 604.2,252.5 605.5,250.8 607.3,249.7 609.8,247.7 613.0,247.1 614.5,247.5 617.3,246.7 619.4,245.1 622.3,244.3 624.4,242.3 626.2,240.9 627.9,239.2 629.5,240.0 631.8,238.3 633.6,236.0 635.5,235.1 638.3,233.7 639.8,233.3 642.4,231.3 643.5,229.9 645.9,229.3 647.8,227.3 650.1,225.3 652.0,224.6 654.4,222.9 655.9,222.6 657.5,221.0 660.2,219.0 661.9,218.1 664.4,216.7 666.3,213.8 667.8,212.7 670.5,213.1 671.7,211.1 674.2,208.6 676.0,208.8 678.3,206.4 680.7,205.7 682.8,205.2 685.6,204.9 687.8,204.2 689.6,204.0 692.3,202.6 693.4,199.5 695.3,199.0 697.1,196.0 698.0,194.4 700.3,191.7 701.8,189.8 703.3,188.5 705.3,188.2 708.1,188.5 709.2,186.0 712.1,184.8 713.4,184.3 715.6,183.4" fill="none" stroke="#8a00dc" stroke-width="5.6" stroke-linejoin="round" stroke-linecap="butt" />
<polyline points="979.5,168.1 979.4,170.7 979.5,173.5 979.7,176.1 979.4,179.3 979.5,181.9 981.0,179.4 983.8,178.7 986.7,178.6 989.5,178.4 992.4,177.8 995.1,178.0 997.7,177.4 1000.3,177.1 1003.0,176.8 1005.6,176.9 1008.0,177.0 1011.0,176.1 1014.0,176.0 1017.3,175.7 1020.2,175.4 1022.6,174.6 1025.3,174.5 1027.7,173.8 1030.3,173.1 1032.9,172.9 1035.1,172.1 1038.3,171.4 1041.1,171.2 1044.3,170.3 1047.4,169.9 1049.8,169.7 1052.5,169.9 1055.3,170.4 1057.9,170.3 1060.3,170.3 1062.7,170.4 1065.4,170.4 1067.7,169.7 1070.4,168.9 1073.0,168.5 1075.5,167.8 1078.0,166.7 1080.3,165.5 1083.0,164.3 1085.3,162.8 1088.1,162.3 1090.7,160.9 1093.3,159.8 1096.5,160.4 1099.6,160.0 1102.5,159.8 1105.6,160.0 1107.8,160.4 1110.4,160.4 1112.8,160.8 1115.5,161.3 1117.9,161.6 1120.4,161.4 1123.1,161.7 1125.5,162.1 1127.5,160.5 1129.5,158.7 1131.7,156.6 1134.2,156.1 1137.0,155.2 1140.0,154.2 1142.9,154.2 1145.7,153.5 1148.5,153.1 1151.2,152.9 1154.0,153.7 1156.5,154.2 1159.0,154.9 1161.4,155.9 1163.9,157.1 1166.5,156.3 1168.8,155.5 1171.4,155.0 1173.8,154.7 1176.4,154.0 1178.8,153.7 1181.4,152.9 1184.0,152.7 1186.3,151.5 1188.5,150.4 1190.6,149.0 1192.5,147.4 1195.1,149.3 1197.8,150.6 1200.2,151.9 1203.0,152.6 1206.1,152.8 1208.6,153.2 1211.5,154.2 1214.2,153.7 1216.5,153.3 1219.0,153.7 1221.6,153.7 1224.2,153.4 1227.0,153.4 1229.8,152.9 1232.9,153.2 1235.3,152.4 1237.7,152.2 1240.5,151.6 1243.1,150.7 1245.5,150.9 1248.0,151.5 1250.3,151.1 1252.9,151.8 1255.5,151.7 1257.8,150.6 1259.9,148.5 1262.2,147.3 1264.1,145.6 1267.4,146.9 1270.5,147.7 1272.6,149.1 1275.0,151.0 1277.0,152.8 1279.2,154.3 1282.1,154.7 1285.0,154.9 1287.8,154.6 1290.7,154.8 1293.5,154.0 1296.5,153.2 1299.3,152.1 1302.0,150.7 1304.3,149.8 1306.9,147.9 1309.3,150.4 1311.8,151.9 1314.5,154.1 1317.0,153.6 1319.3,152.7 1322.2,152.8 1324.4,150.8 1327.1,149.9 1329.8,148.7 1332.7,147.6 1335.4,146.3 1337.8,145.1 1340.9,145.4 1344.0,146.1 1346.1,147.3 1348.5,148.1 1350.9,149.4 1353.5,150.5 1356.0,148.6 1359.0,146.8 1361.7,144.9 1364.5,144.0 1367.2,142.5 1370.1,141.7 1372.4,142.5 1374.9,143.6 1377.3,145.2 1379.6,145.7 1382.0,144.8 1384.3,143.7 1386.9,143.0 1389.4,141.5 1392.4,140.8 1395.2,139.1 1397.0,141.1 1399.1,142.8 1401.0,145.1 1402.9,147.0 1404.5,149.6 1406.5,152.4 1408.2,154.9 1410.2,152.4 1412.3,150.1 1414.3,147.4 1417.3,145.6 1420.2,143.3 1422.6,145.8 1424.9,147.9 1427.2,149.9 1429.6,151.2 1431.9,152.4 1434.3,150.2 1436.7,148.1 1439.4,146.1 1441.2,144.1 1442.9,142.1 1445.8,143.4 1448.6,145.3 1450.5,146.8 1452.8,148.9 1454.6,150.4 1457.2,148.5 1459.5,146.2 1461.7,144.4 1464.5,143.3 1467.4,142.2 1470.4,141.0 1473.2,140.1 1476.1,139.1 1478.5,140.7 1481.0,142.3 1483.2,143.4 1486.0,143.5 1488.7,142.6 1491.7,142.7 1493.9,143.9 1496.4,145.4" fill="none" stroke="#006000" stroke-width="5.6" stroke-linejoin="round" stroke-linecap="butt" />
<polyline points="1008.5,657.3 1008.8,654.8 1009.1,652.2 1009.2,649.1 1009.3,646.8 1009.6,643.8 1010.2,641.4 1010.3,638.8 1010.5,636.1 1013.7,633.9 1016.8,632.2 1019.6,631.7 1022.1,631.5 1025.0,631.1 1027.3,630.7 1029.9,629.7 1032.3,627.7 1034.9,625.6 1037.3,623.1 1038.5,621.0 1039.6,618.6 1040.7,616.5 1041.9,614.6 1042.9,612.0 1043.8,609.7 1045.0,607.1 1045.8,604.9 1046.6,602.1 1047.3,599.5 1048.4,597.1 1049.2,594.7 1049.9,591.8 1050.6,589.8 1051.3,587.5 1052.0,584.8 1052.5,582.4 1053.1,579.7 1053.9,577.0 1054.4,575.0 1055.0,572.3 1055.8,569.7 1056.2,567.2 1056.9,564.9 1057.5,562.5 1058.2,559.7 1058.8,557.8 1059.3,554.8 1060.0,552.4 1060.6,550.3 1061.1,547.5 1061.8,545.0 1062.4,542.7 1062.9,540.0 1063.6,537.8 1064.5,535.4 1064.6,532.7 1065.3,530.5 1065.8,528.3 1066.3,525.3 1066.8,523.1 1067.0,520.4 1067.7,518.0 1067.9,515.5 1068.6,513.2 1069.0,510.5 1069.4,508.2 1069.7,505.9 1070.2,503.0 1070.8,500.7 1071.0,497.8 1071.6,495.6 1071.8,493.1 1072.5,490.6 1072.7,488.0 1073.3,485.6 1073.5,483.2 1074.2,480.6 1074.6,477.8 1075.1,475.1 1075.3,472.9 1075.9,470.0 1076.1,467.4 1076.6,464.9 1076.9,462.8 1077.5,460.4 1077.9,457.7 1078.2,455.3 1078.7,452.5 1079.2,450.3 1079.6,447.7 1080.1,444.7 1080.5,442.1 1081.0,439.8 1081.2,437.6 1081.6,434.6 1082.0,432.3 1082.3,429.5 1082.8,427.3 1083.3,424.6 1084.1,421.8 1084.8,419.4 1085.3,416.4 1085.9,414.3 1086.7,411.1 1087.6,408.7 1088.6,405.6 1089.2,403.0 1090.1,400.5 1090.8,398.1 1091.7,395.4 1092.7,392.3 1093.4,390.0 1093.8,388.0 1094.5,385.0 1095.3,382.7 1096.3,380.7 1096.8,378.1 1097.7,375.9 1098.3,373.3 1098.9,370.7 1099.8,368.5 1100.6,366.3 1101.3,363.4 1101.8,361.5 1102.6,358.6 1103.4,356.3 1104.0,353.9 1104.8,351.8 1105.3,349.4 1106.3,346.8 1107.0,344.6 1107.5,342.0 1108.4,339.8 1109.1,337.0 1110.0,335.0 1110.4,332.4 1111.4,329.8 1113.1,328.1 1115.1,325.4 1116.9,323.3 1118.8,321.4 1120.5,318.8 1122.1,316.5 1123.6,314.1 1125.3,311.9 1126.7,309.7 1128.6,307.4 1129.9,305.1 1131.3,302.4 1132.6,300.0 1134.0,297.8 1135.2,296.0 1136.6,293.6 1137.8,291.1 1140.5,290.3 1142.9,289.1 1145.5,287.6 1148.1,285.9 1150.4,284.2 1152.7,281.7 1154.8,280.0 1156.6,277.8 1158.0,275.5 1159.6,273.9 1161.1,271.5 1162.8,269.7 1164.6,267.2 1167.4,267.0 1170.8,265.6 1173.7,265.0 1175.8,262.6 1177.9,260.2 1179.8,257.7 1181.4,255.2 1183.2,253.2 1184.6,250.8 1186.3,248.0 1187.8,245.4 1191.1,245.4 1193.9,245.0 1197.3,244.9 1199.2,243.0 1201.2,241.6 1202.9,239.7 1204.9,237.9 1207.3,236.4 1209.3,234.4 1211.6,233.2 1213.6,231.3 1215.9,229.7 1217.5,227.6 1219.0,225.5 1220.6,223.5 1222.0,221.2 1223.7,218.7 1225.4,216.8 1226.9,214.7 1228.9,212.7 1231.1,211.1 1233.0,209.5 1234.7,207.5 1236.2,205.2 1237.8,202.3 1239.1,200.2 1240.7,197.9 1242.4,195.3 1244.2,193.2 1246.9,194.1 1249.2,194.1 1251.6,194.8 1254.2,195.2 1255.1,192.8 1255.9,190.0 1256.4,187.7 1257.3,185.1 1258.2,182.5 1258.9,180.2 1259.8,177.9 1260.5,175.2 1263.1,176.8 1265.5,177.5 1268.0,179.1 1269.0,176.3 1270.3,174.6 1271.1,171.9 1272.3,169.5 1273.2,167.5 1274.5,164.9 1275.4,162.5 1278.3,163.8 1281.2,164.2 1284.4,164.9 1286.3,162.8 1288.4,161.0 1290.7,158.7 1293.4,157.8 1296.4,156.3 1299.3,154.9 1302.1,153.2 1304.3,151.9 1307.0,150.4 1310.0,149.5 1313.2,148.2" fill="none" stroke="#e00000" stroke-width="5.6" stroke-linejoin="round" stroke-linecap="butt" />
<polyline points="979.8,630.0 979.8,632.4 979.8,635.2 979.9,637.2 979.7,640.3 979.7,642.7 979.7,644.8 980.9,645.5 983.9,645.4 986.7,645.6 989.2,646.0 992.0,645.7 994.8,646.3 997.7,646.3 1000.2,646.7 1003.2,647.0 1006.0,646.9 1008.8,647.5 1011.3,647.5 1014.1,647.5 1016.9,647.3 1018.2,650.4 1019.6,652.8 1021.1,655.4 1025.1,655.5 1026.7,652.8 1028.0,649.9 1029.4,646.8 1030.8,644.1 1033.7,643.1 1036.5,642.4 1039.6,641.2 1042.6,640.4 1045.6,638.7 1048.7,640.2 1051.6,641.1 1054.3,642.3 1057.0,642.6 1059.3,643.4 1061.9,644.1 1064.2,644.4 1067.5,643.7 1070.7,643.2 1073.6,641.8 1076.1,640.2 1079.1,638.8 1081.4,638.3 1084.0,638.1 1086.2,637.2 1088.8,636.5 1091.5,636.8 1093.9,637.0 1096.7,636.6 1099.3,637.2 1102.0,637.6 1104.7,638.5 1107.6,638.6 1110.2,638.4 1113.1,638.4 1115.5,638.3 1117.5,636.6 1119.7,635.2 1120.4,632.2 1121.1,630.3 1121.9,627.5 1122.8,625.0 1124.0,621.9 1125.1,619.7 1126.0,616.5 1127.1,614.1 1127.9,610.9 1129.0,608.4 1130.0,605.5 1130.8,603.0 1131.4,600.6 1132.4,597.7 1133.0,594.8 1133.7,592.4 1134.4,590.0 1135.0,587.5 1135.6,584.2 1136.4,582.2 1137.2,579.6 1137.8,577.0 1138.6,573.8 1139.4,571.6 1140.1,568.8 1140.7,566.0 1141.5,563.5 1142.3,560.6 1142.9,558.1 1143.9,555.8 1144.5,552.8 1145.3,550.1 1146.1,548.0 1146.7,545.1 1147.7,542.6 1148.4,539.9 1149.0,537.4 1150.0,534.2 1150.8,531.9 1151.0,529.1 1151.8,527.0 1152.2,524.3 1152.9,522.1 1153.4,519.4 1153.9,516.5 1154.4,514.1 1155.2,511.5 1155.6,508.9 1156.1,506.4 1156.8,504.0 1157.3,501.5 1158.0,499.3 1158.6,496.7 1159.2,493.7 1159.9,491.1 1160.4,488.5 1161.2,486.6 1161.7,483.6 1162.3,481.1 1163.0,478.6 1163.4,476.4 1164.2,473.3 1164.9,471.2 1165.3,468.6 1166.1,465.9 1166.4,463.2 1166.9,460.8 1167.4,458.4 1167.7,455.4 1168.4,453.0 1168.8,450.3 1169.1,447.9 1169.7,444.8 1170.0,442.0 1170.7,439.8 1170.8,436.9 1171.6,434.2 1172.1,431.8 1172.6,428.8 1173.4,426.1 1173.8,423.1 1174.3,420.6 1175.0,417.6 1175.5,414.9 1176.0,412.7 1176.6,409.6 1177.1,407.4 1177.6,404.7 1178.1,401.8 1178.6,399.6 1179.2,396.6 1179.7,394.0 1180.5,391.8 1181.1,389.3 1181.5,386.7 1181.7,384.0 1182.3,380.9 1182.8,378.7 1183.1,375.5 1183.7,373.4 1184.1,370.9 1184.3,367.6 1184.8,364.9 1185.4,362.7 1185.7,359.8 1186.3,357.6 1187.1,355.4 1187.6,353.0 1188.3,350.2 1188.8,347.6 1189.7,345.7 1190.2,342.7 1190.6,340.2 1191.3,338.2 1191.8,335.6 1193.4,332.8 1194.7,330.9 1196.1,328.2 1197.6,325.9 1198.7,323.3 1200.3,321.2 1201.6,318.5 1202.6,315.8 1203.9,313.7 1205.0,311.3 1206.5,308.6 1207.4,306.4 1208.8,303.8 1210.1,301.4 1211.2,299.1 1212.4,296.6 1213.4,293.8 1214.3,291.3 1215.5,289.2 1216.5,286.8 1217.7,284.3 1218.5,281.9 1219.5,279.4 1220.5,277.2 1222.5,274.6 1224.5,272.2 1226.4,270.5 1228.0,268.4 1230.0,266.3 1232.5,266.5 1235.2,266.9 1237.6,267.5 1239.9,268.1 1242.6,269.0 1245.2,269.0 1247.8,269.4 1250.3,269.4 1251.9,266.9 1253.3,264.6 1254.7,262.8 1256.3,260.5 1257.6,257.9 1259.2,255.7 1260.5,253.5 1261.9,251.2 1263.4,248.3 1266.1,249.2 1268.7,250.0 1271.4,251.2 1273.5,253.1 1275.6,255.4 1277.7,257.9 1279.8,259.8 1282.5,261.3 1285.3,262.1 1287.6,260.1 1290.1,258.0 1292.4,255.9 1295.2,253.6 1298.1,251.9 1300.7,250.4 1303.9,250.2 1305.2,253.5 1306.1,256.5 1307.1,259.6 1309.3,262.5 1311.4,265.2 1313.4,266.8 1315.5,268.4 1317.4,270.5 1320.7,268.8 1323.8,266.9 1326.4,265.5 1329.2,263.7 1332.0,263.8 1335.2,263.9 1337.5,264.6 1340.1,265.7 1342.4,266.5 1345.1,266.0 1347.7,264.8 1348.9,262.4 1349.9,260.3 1350.7,257.6 1352.0,254.9 1352.9,252.4 1354.8,250.7 1356.9,249.2 1359.2,247.9 1361.4,246.4 1363.8,247.1 1366.5,247.3 1368.2,249.5 1369.6,251.6 1372.6,251.0 1375.7,250.2 1378.4,248.0 1381.4,246.6 1384.2,244.9 1386.1,247.8 1387.7,250.4 1389.6,252.6 1392.1,252.7 1394.4,253.4 1396.8,255.0 1398.8,256.4 1400.4,254.6 1402.1,252.1 1403.6,249.3 1405.3,247.3 1407.0,245.0 1409.1,246.6 1411.2,247.8 1413.5,249.5 1414.6,251.5 1415.9,254.4 1416.9,256.4 1418.2,258.2 1419.5,260.8 1421.3,259.0 1423.0,256.7 1424.5,254.3 1426.2,252.5 1427.7,250.7 1429.3,248.1 1431.8,250.0 1434.4,252.3 1436.7,254.0 1439.3,255.8 1441.7,254.9 1444.1,253.6 1446.7,252.8 1449.3,251.9 1451.8,250.3 1454.0,248.8 1456.6,247.0 1457.3,244.4 1457.9,242.4 1458.5,239.7 1459.2,237.3 1462.3,237.3 1465.6,237.9 1468.9,238.6 1469.8,235.5 1470.7,233.0 1471.4,229.6 1472.4,232.2 1473.6,234.9 1474.4,237.0 1475.3,239.5 1476.5,242.3 1480.0,239.8 1480.9,236.9 1481.9,233.9 1483.0,231.5 1483.9,228.4 1484.6,231.2 1485.2,233.7 1485.9,236.3 1486.3,239.3 1486.9,241.7 1487.7,245.0 1489.4,246.4 1491.4,248.2 1491.7,246.0 1492.1,243.2 1492.5,240.9" fill="none" stroke="#f56000" stroke-width="5.6" stroke-linejoin="round" stroke-linecap="butt" />
<polyline points="1036.5,654.8 1038.9,654.8 1041.8,655.1 1044.1,654.8 1046.7,654.6 1049.4,654.8 1052.0,654.7 1054.6,655.0 1057.0,654.6 1059.5,654.6 1062.2,654.9 1064.7,655.1 1067.1,654.9 1069.9,654.6 1072.3,654.5 1074.9,654.8" fill="none" stroke="#000000" stroke-width="5.6" stroke-linejoin="round" stroke-linecap="butt" />
<polyline points="1088.7,655.0 1091.5,654.9 1094.2,654.6 1097.0,654.3 1100.4,653.3 1104.0,651.5 1106.5,652.7 1109.4,653.5 1111.9,654.4 1114.6,654.2 1117.1,654.7 1119.5,654.5 1122.2,655.0" fill="none" stroke="#000000" stroke-width="5.6" stroke-linejoin="round" stroke-linecap="butt" />
<polyline points="1131.0,655.0 1134.2,655.2 1137.5,655.0" fill="none" stroke="#000000" stroke-width="5.6" stroke-linejoin="round" stroke-linecap="butt" />
<polyline points="1142.0,651.5 1143.7,648.7 1145.3,646.4 1146.8,643.6 1149.3,642.1 1151.7,640.4 1153.8,638.9 1156.3,637.2 1158.6,635.9 1160.9,634.3 1163.1,633.1 1164.6,630.6 1166.0,627.9 1167.4,625.5 1168.8,623.3 1170.2,620.7 1171.2,618.7 1172.4,616.0 1173.5,613.7 1174.8,611.7 1175.8,609.4 1176.9,606.9 1178.4,603.8 1179.8,601.1 1181.3,597.8 1181.6,595.7 1182.3,593.1 1182.8,590.5 1183.1,587.6 1183.7,585.0 1184.4,582.8 1184.8,580.6 1185.3,577.5 1185.7,574.9 1186.3,572.8 1186.7,570.0 1187.2,567.6 1187.8,565.3 1188.4,562.8 1188.7,559.9 1189.3,557.8 1189.8,554.8 1190.4,552.8 1191.1,549.9 1191.7,547.8 1192.1,544.8 1192.8,542.4 1193.2,540.3 1193.8,537.4 1194.5,534.8 1194.8,532.4 1195.6,529.7 1196.2,527.7 1196.8,525.1 1197.5,522.3 1198.0,520.1 1198.8,517.4 1199.3,515.2 1200.1,512.3 1200.7,510.1 1201.2,507.2 1201.8,504.9 1202.4,502.0 1202.9,499.1 1203.5,496.5 1204.1,494.1 1204.6,491.4 1205.2,488.6 1205.8,485.7 1206.5,482.8 1207.3,480.8 1207.7,478.3 1208.4,475.9 1208.9,473.0 1209.6,470.7 1210.4,468.3 1211.0,465.5 1211.7,462.8 1212.1,460.8 1212.9,458.5 1213.4,455.7 1214.2,453.0 1214.8,450.6 1215.6,448.4 1216.3,445.9 1217.1,443.6 1217.9,440.9 1218.4,438.7 1219.1,436.4 1219.9,433.8 1220.7,430.8 1221.6,428.4 1222.2,425.4 1223.3,423.0 1223.9,420.9 1225.1,418.3 1226.0,416.3 1226.9,413.7 1228.1,411.3 1228.9,408.8 1230.0,406.9 1230.9,404.3 1231.6,402.0 1232.5,399.4 1233.2,396.7 1233.9,393.8 1235.0,391.5 1235.7,388.7 1236.3,385.9 1236.8,383.5 1237.7,380.5 1238.3,377.8 1239.0,375.1 1239.6,372.5 1240.3,369.7 1241.0,367.4 1241.5,364.5 1242.4,362.0 1243.0,359.5 1243.7,356.4 1244.3,354.2 1245.0,351.4 1246.1,348.9 1247.5,346.8 1248.6,344.0 1249.7,341.6 1253.0,340.7 1256.0,338.6 1258.6,339.6 1261.2,340.9 1263.6,342.2 1266.9,341.3 1270.1,340.3 1272.4,338.0 1274.6,336.0 1276.6,333.9 1278.8,331.6 1280.1,329.1 1281.0,326.8 1282.0,324.7 1283.3,322.2 1284.4,319.4 1285.3,316.7 1286.4,314.6 1287.4,311.7 1290.3,311.6 1293.5,310.9 1296.1,311.8 1298.6,313.3 1301.1,314.5 1303.4,316.2 1305.9,317.3 1308.7,315.9 1311.3,314.9 1312.2,312.4 1313.5,310.0 1314.4,307.7 1316.1,305.6 1318.2,303.4 1320.0,300.6 1321.8,298.7 1323.8,296.2 1326.9,296.0 1330.1,296.2 1331.8,294.1 1333.5,291.7 1335.4,289.5 1337.2,286.7 1339.9,287.4 1342.5,288.0 1343.8,285.1 1345.1,282.6 1346.6,279.8 1348.8,277.6 1350.9,275.1 1353.0,273.2 1355.5,274.9 1357.8,276.3 1360.2,277.6 1363.1,277.6 1365.6,278.1 1368.5,278.3 1371.0,276.2 1373.7,273.1 1375.4,275.5 1377.1,277.5 1379.0,279.6 1381.6,277.7 1384.0,275.7 1385.1,278.0 1386.3,281.2 1387.3,283.8 1388.4,286.8 1391.5,286.2 1394.6,285.9 1397.3,284.8 1399.8,283.9 1402.5,282.7 1404.8,282.3 1407.1,281.5 1409.7,280.2 1412.0,281.9 1414.4,283.5 1417.0,285.3 1419.0,283.8 1421.1,282.4 1423.3,280.3 1425.2,278.6 1427.3,277.0 1429.5,275.8 1432.0,276.6 1434.2,278.2 1436.8,279.6 1438.4,281.6 1440.0,284.5 1441.8,286.7 1443.6,285.0 1445.6,283.0 1447.2,281.1 1449.3,279.2 1452.6,279.7 1455.8,280.2 1459.0,280.5 1460.9,277.3 1462.4,275.0 1464.3,271.6 1466.6,272.8 1469.2,273.5 1471.4,274.3 1474.0,272.5 1476.3,270.4 1479.0,268.3 1482.4,268.8 1486.2,269.5 1487.2,266.4 1488.4,263.8 1489.4,261.1 1490.3,258.7 1491.2,256.0 1491.7,259.2 1492.5,262.0" fill="none" stroke="#000000" stroke-width="5.6" stroke-linejoin="round" stroke-linecap="butt" />
<polyline points="1036.0,651.5 1038.6,651.3 1041.6,650.6 1044.4,650.5 1047.2,649.9 1050.0,649.7 1053.0,649.4 1055.4,649.4 1058.1,649.5 1060.6,649.9 1063.1,649.9 1065.7,649.5 1068.2,649.8 1071.0,649.7 1073.5,650.2 1076.0,649.8 1078.7,649.9 1081.4,650.3 1083.8,650.0 1086.4,649.7 1089.0,650.3 1091.5,650.1 1094.3,649.7 1097.1,649.4 1099.7,649.6 1102.3,649.0 1105.1,648.8 1107.8,648.3 1111.4,647.0 1114.9,645.8 1117.7,645.6 1120.6,645.7 1123.1,645.5 1126.1,645.3 1128.8,645.2 1131.6,645.8 1134.3,646.6 1136.8,646.4 1139.8,647.2 1142.6,647.3 1144.8,646.2 1147.1,645.1 1149.4,644.1 1152.1,643.2 1154.8,642.2 1157.7,640.7 1160.3,639.7 1163.2,638.8 1165.5,637.2 1167.9,635.7 1170.3,634.8 1172.6,633.4 1174.6,632.0 1177.0,630.2 1178.8,628.6 1180.4,626.6 1181.8,624.8 1183.5,622.5 1185.3,620.5 1186.9,618.1 1188.3,615.3 1189.9,612.4 1191.6,609.9 1192.8,607.0 1194.7,604.5 1196.0,601.9 1197.4,599.9 1198.7,597.3 1200.0,595.1 1201.2,593.1 1202.4,590.5 1203.3,587.9 1204.2,585.3 1205.1,583.1 1206.1,580.8 1207.0,577.9 1207.9,575.6 1208.7,573.1 1209.8,570.9 1210.7,568.4 1211.4,565.6 1212.4,563.1 1213.1,560.4 1213.9,558.3 1214.8,555.9 1215.6,553.3 1216.5,550.4 1217.4,547.7 1218.2,545.4 1218.9,543.2 1219.9,540.0 1220.9,537.7 1221.5,535.0 1222.2,533.0 1223.1,530.5 1223.7,527.9 1224.7,525.6 1225.4,523.5 1225.8,521.1 1226.5,518.5 1227.5,516.1 1228.2,513.8 1228.8,511.2 1229.5,508.7 1230.2,506.5 1231.1,504.1 1231.8,501.6 1232.9,499.3 1233.7,496.5 1234.7,494.0 1235.3,491.5 1236.5,489.5 1237.4,486.8 1238.4,484.4 1239.1,481.8 1240.2,479.2 1240.8,476.9 1242.0,474.2 1242.8,472.1 1243.5,469.1 1244.4,466.7 1245.5,464.6 1246.1,461.9 1247.0,458.9 1248.0,456.4 1248.6,454.1 1249.7,451.8 1250.9,449.9 1252.0,447.6 1253.3,445.1 1254.2,442.7 1255.4,440.5 1256.6,438.3 1257.6,436.1 1259.0,433.6 1259.9,431.1 1261.1,428.8 1262.4,427.0 1263.7,424.8 1264.9,422.2 1266.0,419.5 1267.3,417.4 1268.6,415.1 1269.9,413.1 1271.2,410.9 1272.4,409.0 1273.9,406.7 1275.0,404.5 1276.5,402.5 1278.4,399.9 1280.4,398.4 1282.2,396.6 1284.3,394.6 1286.1,392.4 1288.1,390.3 1290.1,388.5 1291.9,386.5 1293.8,384.6 1295.4,382.6 1297.0,380.3 1298.5,378.7 1300.2,377.1 1301.8,374.8 1303.4,372.9 1305.1,371.2 1307.0,369.5 1309.5,368.0 1311.7,366.7 1313.8,365.9 1315.8,364.3 1318.0,363.2 1320.3,361.4 1322.4,359.7 1324.8,358.1 1326.9,356.0 1328.9,354.4 1331.0,352.9 1332.8,350.9 1334.9,349.3 1336.5,347.0 1338.5,345.6 1340.3,343.7 1342.2,341.6 1344.2,339.4 1346.6,339.1 1349.2,338.9 1352.0,338.8 1354.4,338.6 1356.2,336.2 1358.1,334.7 1359.6,332.9 1361.5,330.4 1363.0,328.9 1365.0,326.4 1366.9,325.3 1368.8,323.7 1370.9,321.7 1372.8,320.5 1375.1,319.4 1377.6,318.5 1380.0,317.2 1382.3,316.4 1384.3,315.2 1386.7,313.4 1388.7,312.2 1390.5,310.9 1392.8,309.1 1394.7,307.6 1397.4,306.8 1399.8,305.6 1402.0,304.7 1404.8,303.6 1407.0,303.0 1409.4,302.2 1411.9,301.1 1414.6,300.8 1417.0,299.8 1419.3,299.0 1421.9,298.4 1424.5,297.4 1426.9,296.5 1429.3,295.3 1431.8,293.2 1434.4,291.1 1436.7,289.0 1439.4,289.7 1441.8,289.9 1444.4,290.7 1446.7,289.2 1449.3,287.8 1451.6,286.5 1454.1,285.7 1456.5,284.3 1459.3,284.7 1461.6,285.3 1464.2,285.4 1466.4,283.7 1469.1,282.1 1471.6,279.8 1474.0,278.0 1476.5,277.5 1479.1,277.1 1481.6,276.2 1484.1,275.3 1487.3,275.3 1490.6,274.7 1493.8,274.4" fill="none" stroke="#0000d2" stroke-width="5.6" stroke-linejoin="round" stroke-linecap="butt" />
<polyline points="1029.4,655.2 1031.9,652.6 1034.1,650.8 1036.3,648.5 1038.9,648.3 1041.8,647.8 1044.4,647.9 1047.4,647.1 1050.2,647.0 1052.8,646.9 1055.4,647.3 1058.1,647.2 1060.5,647.0 1063.0,647.3 1065.8,647.3 1068.5,647.4 1070.9,647.5 1073.4,647.9 1077.0,648.3 1080.4,648.8 1083.1,648.9 1085.9,649.1 1088.7,648.4 1091.3,648.2 1094.1,648.5 1097.1,647.9 1099.8,647.7 1102.5,647.5 1105.1,647.0 1108.1,647.1 1110.7,647.4 1113.6,647.1 1116.1,647.4 1119.1,647.3 1121.6,647.6 1124.4,648.2 1127.4,648.3 1130.1,648.7 1132.7,649.1 1135.7,649.7 1139.1,650.2 1142.6,651.1 1146.0,649.9 1149.4,648.8 1151.9,648.0 1154.0,646.8 1156.2,645.4 1159.0,645.5 1161.6,644.9 1164.7,644.9 1167.4,644.3 1170.0,644.3 1173.5,644.0 1176.9,643.7 1181.2,641.6 1184.3,639.9 1187.2,638.3 1190.1,637.0 1192.3,635.9 1194.6,634.5 1196.7,633.5 1199.1,632.2 1201.3,630.4 1203.7,629.2 1205.8,627.7 1208.0,626.8 1210.4,625.1 1212.6,623.5 1214.9,621.4 1217.1,620.0 1219.4,618.0 1221.5,616.4 1223.2,614.1 1225.1,612.1 1226.6,609.9 1228.3,607.7 1230.0,605.0 1231.7,603.0 1233.2,600.9 1234.8,598.0 1236.2,595.9 1237.6,593.2 1239.2,591.2 1240.3,588.4 1241.8,585.9 1243.0,584.1 1244.0,581.8 1245.2,579.0 1246.6,576.9 1247.5,574.6 1248.7,572.3 1249.7,570.1 1251.0,568.0 1252.0,565.8 1253.2,563.6 1254.0,561.3 1255.2,558.7 1256.0,556.1 1256.9,554.1 1258.1,551.2 1259.2,549.4 1259.8,546.8 1260.9,544.3 1262.1,541.7 1262.9,539.5 1263.8,537.0 1264.8,534.9 1265.7,532.2 1266.7,529.5 1267.7,527.0 1269.1,524.4 1270.5,521.7 1271.7,519.7 1272.9,516.6 1274.4,514.2 1275.8,511.5 1276.7,509.7 1277.8,507.4 1279.1,504.7 1280.1,502.9 1281.0,500.6 1282.4,498.3 1283.4,495.6 1285.5,493.7 1287.4,492.2 1289.2,490.2 1291.2,488.3 1293.0,486.5 1295.1,484.4 1297.1,482.5 1298.9,480.3 1300.4,478.3 1302.0,476.6 1303.8,474.4 1305.5,472.8 1307.1,470.2 1308.3,468.4 1309.5,465.6 1310.9,463.7 1312.1,461.7 1313.3,458.8 1314.8,456.7 1316.5,454.4 1318.8,452.7 1320.4,450.1 1322.6,448.2 1324.1,445.7 1325.6,444.1 1327.0,441.6 1328.6,439.8 1330.2,437.6 1332.2,435.3 1333.6,433.1 1335.5,430.8 1337.1,428.7 1339.1,426.2 1340.9,424.1 1342.4,421.7 1344.3,419.7 1346.1,417.6 1347.8,415.0 1349.9,413.1 1351.5,411.4 1353.6,409.6 1355.6,407.8 1357.4,405.8 1359.0,403.7 1360.6,401.5 1362.0,399.2 1364.1,397.0 1366.3,395.0 1368.3,392.7 1370.6,390.9 1372.8,388.3 1374.8,387.3 1377.4,386.7 1379.7,385.7 1382.0,384.5 1384.4,383.5 1386.3,381.2 1388.2,379.0 1390.2,376.3 1392.1,374.2 1393.7,372.1 1395.3,369.7 1396.9,367.4 1398.8,364.9 1400.7,363.7 1403.1,361.9 1405.5,360.2 1407.6,358.3 1410.0,357.6 1412.0,356.0 1414.1,354.4 1416.0,352.7 1417.4,350.0 1419.1,348.1 1420.7,345.5 1423.2,344.5 1426.0,343.3 1428.4,341.8 1431.3,341.0 1433.8,339.7 1436.2,339.3 1438.9,338.3 1441.7,337.1 1444.4,336.5 1446.4,334.5 1448.4,333.3 1450.4,332.2 1452.6,330.2 1454.5,328.9 1456.6,327.5 1458.6,326.0 1460.6,324.0 1462.7,322.3 1465.0,320.0 1467.0,318.0 1469.0,316.5 1471.5,315.1 1473.8,313.7 1476.5,312.5 1478.9,311.6 1481.5,310.3 1483.4,308.5 1485.5,306.7 1487.5,304.5 1489.6,303.1 1491.6,300.7 1493.8,299.1" fill="none" stroke="#8a00dc" stroke-width="5.6" stroke-linejoin="round" stroke-linecap="butt" />
<line x1="980.00" y1="634.50" x2="980.00" y2="657.30" stroke="#8a00dc" stroke-width="4.6" />
<text transform="translate(460.70,417.00) scale(1,1.03)" font-size="27.2" fill="#005c00" >4.20 K</text>
<text transform="translate(460.70,449.25) scale(1,1.03)" font-size="27.2" fill="#ff0000" >1.85 K</text>
<text transform="translate(460.70,481.50) scale(1,1.03)" font-size="27.2" fill="#e4640e" >1.39 K</text>
<text transform="translate(460.70,513.75) scale(1,1.03)" font-size="27.2" >1.21 K</text>
<text transform="translate(460.70,546.00) scale(1,1.03)" font-size="27.2" fill="#0aa8e6" >0.75 K</text>
<text transform="translate(460.70,578.25) scale(1,1.03)" font-size="27.2" fill="#0000ff" >0.49 K</text>
<text transform="translate(460.70,610.50) scale(1,1.03)" font-size="27.2" fill="#4e1490" >0.47 K</text>
<text transform="translate(1002.30,228.70) scale(1,1.03)" font-size="27.2" fill="#005c00" >4.20 K</text>
<text transform="translate(1002.30,261.05) scale(1,1.03)" font-size="27.2" fill="#ff0000" >2.35 K</text>
<text transform="translate(1002.30,293.40) scale(1,1.03)" font-size="27.2" fill="#e4640e" >1.39 K</text>
<text transform="translate(1002.30,325.75) scale(1,1.03)" font-size="27.2" >0.94 K</text>
<text transform="translate(1002.30,358.10) scale(1,1.03)" font-size="27.2" fill="#0000ff" >0.70 K</text>
<text transform="translate(1002.30,390.45) scale(1,1.03)" font-size="27.2" fill="#4e1490" >0.47 K</text>
<line x1="351.40" y1="550.50" x2="247.46" y2="123.12" stroke="#000" stroke-width="3.8" />
<polygon points="245.1,113.4 254.2,124.6 247.5,123.1 242.1,127.5" fill="#000"/>
<line x1="1246.50" y1="616.10" x2="1073.82" y2="142.20" stroke="#000" stroke-width="3.8" />
<polygon points="1070.4,132.8 1080.7,142.9 1073.8,142.2 1069.0,147.2" fill="#000"/>
<text transform="translate(196.20,109.50) scale(1,1.02)" font-size="34" >4.2 K</text>
<text transform="translate(332.70,581.60) scale(1,1.02)" font-size="34" >0.47 K</text>
<text transform="translate(1017.80,129.20) scale(1,1.03)" font-size="34" >4.2 K</text>
<text transform="translate(1237.60,647.00) scale(1,1.02)" font-size="34" >0.47 K</text>
<rect x="590.5" y="363.7" width="151.60000000000002" height="263.7" fill="#fff" stroke="#8a8a8a" stroke-width="1.1"/>
<line x1="628.40" y1="363.70" x2="628.40" y2="368.70" stroke="#8a8a8a" stroke-width="1.1" />
<line x1="628.40" y1="627.40" x2="628.40" y2="622.90" stroke="#8a8a8a" stroke-width="1.1" />
<line x1="666.30" y1="363.70" x2="666.30" y2="368.70" stroke="#8a8a8a" stroke-width="1.1" />
<line x1="666.30" y1="627.40" x2="666.30" y2="622.90" stroke="#8a8a8a" stroke-width="1.1" />
<line x1="704.20" y1="363.70" x2="704.20" y2="368.70" stroke="#8a8a8a" stroke-width="1.1" />
<line x1="704.20" y1="627.40" x2="704.20" y2="622.90" stroke="#8a8a8a" stroke-width="1.1" />
<line x1="590.50" y1="574.66" x2="595.00" y2="574.66" stroke="#8a8a8a" stroke-width="1.1" />
<line x1="742.10" y1="574.66" x2="737.60" y2="574.66" stroke="#8a8a8a" stroke-width="1.1" />
<line x1="590.50" y1="521.92" x2="595.00" y2="521.92" stroke="#8a8a8a" stroke-width="1.1" />
<line x1="742.10" y1="521.92" x2="737.60" y2="521.92" stroke="#8a8a8a" stroke-width="1.1" />
<line x1="590.50" y1="469.18" x2="595.00" y2="469.18" stroke="#8a8a8a" stroke-width="1.1" />
<line x1="742.10" y1="469.18" x2="737.60" y2="469.18" stroke="#8a8a8a" stroke-width="1.1" />
<line x1="590.50" y1="416.44" x2="595.00" y2="416.44" stroke="#8a8a8a" stroke-width="1.1" />
<line x1="742.10" y1="416.44" x2="737.60" y2="416.44" stroke="#8a8a8a" stroke-width="1.1" />
<text transform="translate(586.90,630.00) scale(1,1.03)" font-size="15.5" text-anchor="end" >2.5</text>
<text transform="translate(586.90,577.26) scale(1,1.03)" font-size="15.5" text-anchor="end" >3</text>
<text transform="translate(586.90,524.52) scale(1,1.03)" font-size="15.5" text-anchor="end" >3.5</text>
<text transform="translate(586.90,471.78) scale(1,1.03)" font-size="15.5" text-anchor="end" >4</text>
<text transform="translate(586.90,419.04) scale(1,1.03)" font-size="15.5" text-anchor="end" >4.5</text>
<text transform="translate(586.90,366.30) scale(1,1.03)" font-size="15.5" text-anchor="end" >5</text>
<text transform="translate(590.50,640.80) scale(1,1.03)" font-size="15.5" text-anchor="middle" >30</text>
<text transform="translate(628.40,640.80) scale(1,1.03)" font-size="15.5" text-anchor="middle" >40</text>
<text transform="translate(666.30,640.80) scale(1,1.03)" font-size="15.5" text-anchor="middle" >50</text>
<text transform="translate(704.20,640.80) scale(1,1.03)" font-size="15.5" text-anchor="middle" >60</text>
<text transform="translate(742.10,640.80) scale(1,1.03)" font-size="15.5" text-anchor="middle" >70</text>
<line x1="589.30" y1="437.90" x2="742.00" y2="437.90" stroke="#000" stroke-width="2" stroke-dasharray="4.6 2.2"/>
<text transform="translate(604.90,428.90) scale(1.18,1)" font-size="18.5" font-style="italic">ρ</text>
<text x="615.30" y="433.20" font-size="13.5" >n</text>
<polyline points="590.0,625.6 590.6,623.3 591.5,621.6 592.5,619.7 593.1,617.8 594.1,616.5 594.9,614.7 595.8,612.9 597.0,610.8 597.9,608.4 598.8,607.4 599.9,605.6 600.9,603.8 601.7,601.8 602.7,600.9 603.7,598.5 604.8,597.5 605.3,595.7 607.4,594.7 609.5,592.4 610.2,590.1 611.0,588.0 612.2,586.3 614.1,585.2 616.1,582.9 616.8,581.4 617.9,580.3 619.3,578.8 620.1,576.9 621.5,575.9 622.2,573.3 623.7,571.8 624.7,569.8 625.6,568.4 626.9,566.5 627.5,564.6 629.1,564.1 630.2,562.2 631.2,560.2 632.3,559.6 633.5,557.6 634.9,555.6 636.1,555.1 637.1,552.7 638.4,551.9 639.5,549.8 640.8,548.3 641.5,547.0 642.8,545.9 643.9,544.7 645.2,543.0 645.7,541.8 646.7,539.6 647.8,538.3 649.2,536.2 649.9,535.4 651.1,532.9 652.1,532.2 652.9,529.8 654.1,528.4 654.8,526.6 655.9,525.1 656.9,524.1 658.0,522.4 659.2,520.5 659.9,520.0 661.2,518.5 662.2,516.5 663.2,515.1 663.8,513.2 664.8,512.5 666.0,510.3 667.2,508.4 668.5,507.7 669.6,506.2 670.4,503.8 671.8,502.9 672.7,500.9 673.7,500.0 675.0,498.4 676.0,496.2 677.3,495.0 678.7,492.9 679.7,491.4 680.9,490.1 681.9,488.0 682.9,487.0 684.3,484.7 685.3,483.3" fill="none" stroke="#8a00dc" stroke-width="3.4" stroke-linejoin="round" stroke-linecap="butt" />
<line x1="621.00" y1="576.50" x2="742.00" y2="397.50" stroke="#000" stroke-width="1.4" />
<text x="704.0" y="411.9" font-size="20"><tspan font-style="italic">B</tspan>*</text>
<line x1="714.70" y1="413.80" x2="714.70" y2="429.00" stroke="#222" stroke-width="1" />
<polygon points="714.7,434.5 712.2,428.2 717.2,428.2" fill="#000"/>
<text transform="translate(620.00,605.60) scale(1,1.03)" font-size="16.8" fill="#4e1490" >0.47 K</text>
<rect x="1437.4" y="370.4" width="139.39999999999986" height="258.70000000000005" fill="#fff" stroke="#8a8a8a" stroke-width="1.1"/>
<line x1="1462.75" y1="370.40" x2="1462.75" y2="374.90" stroke="#8a8a8a" stroke-width="1.1" />
<line x1="1462.75" y1="629.10" x2="1462.75" y2="624.60" stroke="#8a8a8a" stroke-width="1.1" />
<line x1="1488.09" y1="370.40" x2="1488.09" y2="374.90" stroke="#8a8a8a" stroke-width="1.1" />
<line x1="1488.09" y1="629.10" x2="1488.09" y2="624.60" stroke="#8a8a8a" stroke-width="1.1" />
<line x1="1513.44" y1="370.40" x2="1513.44" y2="374.90" stroke="#8a8a8a" stroke-width="1.1" />
<line x1="1513.44" y1="629.10" x2="1513.44" y2="624.60" stroke="#8a8a8a" stroke-width="1.1" />
<line x1="1538.78" y1="370.40" x2="1538.78" y2="374.90" stroke="#8a8a8a" stroke-width="1.1" />
<line x1="1538.78" y1="629.10" x2="1538.78" y2="624.60" stroke="#8a8a8a" stroke-width="1.1" />
<line x1="1564.13" y1="370.40" x2="1564.13" y2="374.90" stroke="#8a8a8a" stroke-width="1.1" />
<line x1="1564.13" y1="629.10" x2="1564.13" y2="624.60" stroke="#8a8a8a" stroke-width="1.1" />
<line x1="1437.40" y1="592.14" x2="1441.90" y2="592.14" stroke="#8a8a8a" stroke-width="1.1" />
<line x1="1576.80" y1="592.14" x2="1572.30" y2="592.14" stroke="#8a8a8a" stroke-width="1.1" />
<line x1="1437.40" y1="555.19" x2="1441.90" y2="555.19" stroke="#8a8a8a" stroke-width="1.1" />
<line x1="1576.80" y1="555.19" x2="1572.30" y2="555.19" stroke="#8a8a8a" stroke-width="1.1" />
<line x1="1437.40" y1="518.23" x2="1441.90" y2="518.23" stroke="#8a8a8a" stroke-width="1.1" />
<line x1="1576.80" y1="518.23" x2="1572.30" y2="518.23" stroke="#8a8a8a" stroke-width="1.1" />
<line x1="1437.40" y1="481.27" x2="1441.90" y2="481.27" stroke="#8a8a8a" stroke-width="1.1" />
<line x1="1576.80" y1="481.27" x2="1572.30" y2="481.27" stroke="#8a8a8a" stroke-width="1.1" />
<line x1="1437.40" y1="444.31" x2="1441.90" y2="444.31" stroke="#8a8a8a" stroke-width="1.1" />
<line x1="1576.80" y1="444.31" x2="1572.30" y2="444.31" stroke="#8a8a8a" stroke-width="1.1" />
<line x1="1437.40" y1="407.36" x2="1441.90" y2="407.36" stroke="#8a8a8a" stroke-width="1.1" />
<line x1="1576.80" y1="407.36" x2="1572.30" y2="407.36" stroke="#8a8a8a" stroke-width="1.1" />
<text transform="translate(1433.90,631.60) scale(1,1.03)" font-size="14" text-anchor="end" >0.4</text>
<text transform="translate(1433.90,594.64) scale(1,1.03)" font-size="14" text-anchor="end" >0.6</text>
<text transform="translate(1433.90,557.69) scale(1,1.03)" font-size="14" text-anchor="end" >0.8</text>
<text transform="translate(1433.90,520.73) scale(1,1.03)" font-size="14" text-anchor="end" >1</text>
<text transform="translate(1433.90,483.77) scale(1,1.03)" font-size="14" text-anchor="end" >1.2</text>
<text transform="translate(1433.90,446.81) scale(1,1.03)" font-size="14" text-anchor="end" >1.4</text>
<text transform="translate(1433.90,409.86) scale(1,1.03)" font-size="14" text-anchor="end" >1.6</text>
<text transform="translate(1433.90,372.90) scale(1,1.03)" font-size="14" text-anchor="end" >1.8</text>
<text transform="translate(1437.40,641.00) scale(1,1.03)" font-size="14" text-anchor="middle" >30</text>
<text transform="translate(1462.75,641.00) scale(1,1.03)" font-size="14" text-anchor="middle" >40</text>
<text transform="translate(1488.09,641.00) scale(1,1.03)" font-size="14" text-anchor="middle" >50</text>
<text transform="translate(1513.44,641.00) scale(1,1.03)" font-size="14" text-anchor="middle" >60</text>
<text transform="translate(1538.78,641.00) scale(1,1.03)" font-size="14" text-anchor="middle" >70</text>
<text transform="translate(1564.13,641.00) scale(1,1.03)" font-size="14" text-anchor="middle" >80</text>
<line x1="1436.00" y1="425.60" x2="1573.50" y2="425.60" stroke="#000" stroke-width="1.9" stroke-dasharray="4.2 2.4"/>
<text transform="translate(1460.10,417.40) scale(1.18,1)" font-size="17.3" font-style="italic">ρ</text>
<text x="1469.80" y="421.50" font-size="12.5" >n</text>
<polyline points="1439.0,629.0 1439.3,626.8 1440.2,624.6 1440.6,623.0 1441.0,621.0 1441.5,619.1 1442.0,617.5 1442.5,615.0 1443.3,613.5 1443.9,611.6 1444.5,609.2 1444.7,607.4 1445.7,605.6 1446.2,604.3 1446.7,602.4 1447.6,600.9 1448.1,598.9 1448.7,597.6 1449.5,595.6 1450.0,593.9 1450.7,592.2 1451.3,590.6 1452.1,588.5 1452.7,587.0 1453.3,585.4 1453.8,583.7 1454.7,581.6 1455.4,579.6 1455.9,578.3 1456.7,576.3 1457.6,574.8 1458.1,572.8 1459.0,571.4 1459.9,569.5 1460.8,567.7 1461.8,566.6 1462.5,564.7 1463.7,563.1 1465.0,561.8 1466.6,560.0 1467.8,557.8 1468.8,556.4 1470.2,554.8 1471.5,553.5 1472.4,551.3 1473.1,549.4 1474.1,547.7 1475.2,546.2 1476.2,544.7 1477.2,542.8 1478.2,541.5 1479.5,539.6 1480.7,537.9 1481.8,536.4 1483.3,534.5 1484.7,533.4 1486.0,531.8 1487.2,529.6 1488.4,528.4 1490.0,526.3 1490.9,524.8 1492.3,523.4 1493.5,522.0 1494.5,520.3 1495.4,518.1 1496.2,517.0 1497.2,515.2 1497.9,513.2 1499.0,511.9 1500.0,509.5 1500.7,508.1" fill="none" stroke="#8a00dc" stroke-width="3.2" stroke-linejoin="round" stroke-linecap="butt" />
<line x1="1460.50" y1="566.60" x2="1576.80" y2="394.90" stroke="#000" stroke-width="1.3" />
<text x="1545.7" y="400.8" font-size="19"><tspan font-style="italic">B</tspan>*</text>
<line x1="1556.10" y1="403.10" x2="1556.10" y2="418.00" stroke="#444" stroke-width="1" />
<polygon points="1556.1,422.7 1554.0,417.5 1558.3,417.5" fill="#000"/>
<text transform="translate(1460.00,607.80) scale(1,1.03)" font-size="16.2" fill="#4e1490" >0.47 K</text>
</svg>
</body></html>
